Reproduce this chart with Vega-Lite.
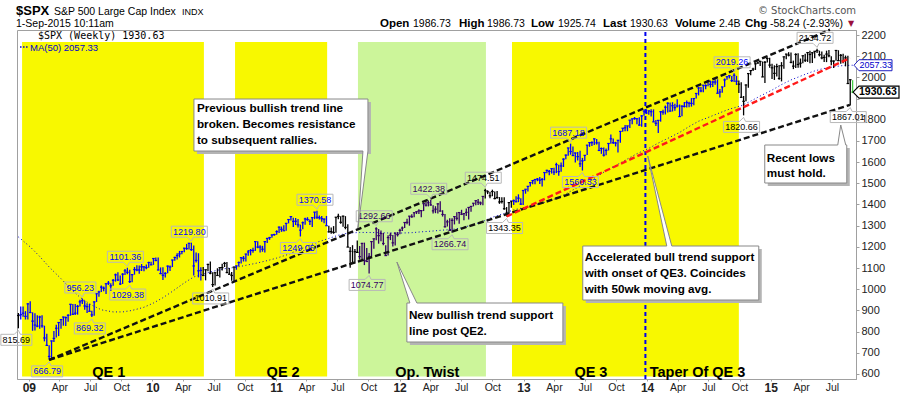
{
"$schema":"https://vega.github.io/schema/vega-lite/v6.json",
"width":839,"height":349,
"autosize":{"type":"none"},
"padding":{"left":17,"top":30,"right":44,"bottom":17},
"background":"#ffffff",
"config":{"view":{"stroke":"#a0a0a0","strokeWidth":1},"font":"Liberation Sans","axisY":{"labelOverlap":false,"tickCount":17},"axis":{"labelOverlap":false}},
"datasets":{
"regions":[{"s":"2008-12-12","e":"2010-06-02","k":"QE"},{"s":"2010-09-02","e":"2011-06-01","k":"QE"},{"s":"2011-08-31","e":"2012-09-12","k":"OT"},{"s":"2012-11-28","e":"2014-09-29","k":"QE"}],
"phases":[{"n":"QE 1","d":"2009-08-25"},{"n":"QE 2","d":"2011-01-22"},{"n":"Op. Twist","d":"2012-03-23"},{"n":"QE 3","d":"2013-07-19"},{"n":"Taper Of QE 3","d":"2014-05-30"}],
"trend":[{"id":"L1","d":"2009-03-02","v":666.79},{"id":"L1","d":"2015-06-25","v":2225},{"id":"L2","d":"2009-03-02","v":666.79},{"id":"L2","d":"2015-08-23","v":1870},{"id":"L3","d":"2012-11-12","v":1343.35},{"id":"L3","d":"2015-08-23","v":2091}],
"ma":[{"d":"2008-12-01","v":1247},{"d":"2009-01-05","v":1200},{"d":"2009-02-02","v":1155},{"d":"2009-03-02","v":1105},{"d":"2009-04-06","v":1050},{"d":"2009-05-04","v":1003},{"d":"2009-06-01","v":962},{"d":"2009-07-06","v":925},{"d":"2009-08-03","v":903},{"d":"2009-09-07","v":893},{"d":"2009-10-05","v":893},{"d":"2009-11-02","v":900},{"d":"2009-12-07","v":915},{"d":"2010-01-04","v":935},{"d":"2010-02-01","v":960},{"d":"2010-03-01","v":990},{"d":"2010-04-05","v":1030},{"d":"2010-05-03","v":1058},{"d":"2010-06-07","v":1075},{"d":"2010-07-05","v":1087},{"d":"2010-08-02","v":1097},{"d":"2010-09-06","v":1104},{"d":"2010-10-04","v":1113},{"d":"2010-11-01","v":1122},{"d":"2010-12-06","v":1135},{"d":"2011-01-03","v":1147},{"d":"2011-02-07","v":1165},{"d":"2011-03-07","v":1185},{"d":"2011-04-04","v":1203},{"d":"2011-05-02","v":1222},{"d":"2011-06-06","v":1240},{"d":"2011-07-04","v":1255},{"d":"2011-08-01","v":1265},{"d":"2011-09-05","v":1268},{"d":"2011-10-03","v":1268},{"d":"2011-11-07","v":1267},{"d":"2011-12-05","v":1265},{"d":"2012-01-02","v":1265},{"d":"2012-02-06","v":1267},{"d":"2012-03-05","v":1271},{"d":"2012-04-02","v":1274},{"d":"2012-05-07","v":1279},{"d":"2012-06-04","v":1282},{"d":"2012-07-02","v":1290},{"d":"2012-08-06","v":1305},{"d":"2012-09-03","v":1320},{"d":"2012-10-01","v":1340},{"d":"2012-11-05","v":1358},{"d":"2012-12-03","v":1375},{"d":"2013-01-07","v":1387},{"d":"2013-02-04","v":1398},{"d":"2013-03-04","v":1410},{"d":"2013-04-01","v":1425},{"d":"2013-05-06","v":1450},{"d":"2013-06-03","v":1475},{"d":"2013-07-01","v":1500},{"d":"2013-08-05","v":1530},{"d":"2013-09-02","v":1560},{"d":"2013-10-07","v":1590},{"d":"2013-11-04","v":1615},{"d":"2013-12-02","v":1640},{"d":"2014-01-06","v":1665},{"d":"2014-02-03","v":1690},{"d":"2014-03-03","v":1712},{"d":"2014-04-07","v":1740},{"d":"2014-05-05","v":1768},{"d":"2014-06-02","v":1793},{"d":"2014-07-07","v":1815},{"d":"2014-08-04","v":1833},{"d":"2014-09-01","v":1850},{"d":"2014-10-06","v":1866},{"d":"2014-11-03","v":1888},{"d":"2014-12-01","v":1912},{"d":"2015-01-05","v":1940},{"d":"2015-02-02","v":1966},{"d":"2015-03-02","v":1988},{"d":"2015-04-06","v":2010},{"d":"2015-05-04","v":2027},{"d":"2015-06-01","v":2040},{"d":"2015-07-06","v":2050},{"d":"2015-08-03","v":2056},{"d":"2015-08-31","v":2057.33}],
"marks":[{"d":"2008-12-01","v":815.69,"k":"lo","p":"-"},{"d":"2009-03-02","v":666.79,"k":"lo","p":"QE"},{"d":"2009-06-08","v":956.23,"k":"hi","p":"QE"},{"d":"2009-07-06","v":869.32,"k":"lo","p":"QE"},{"d":"2009-10-19","v":1101.36,"k":"hi","p":"QE"},{"d":"2009-10-26","v":1029.38,"k":"lo","p":"QE"},{"d":"2010-04-26","v":1219.8,"k":"hi","p":"QE"},{"d":"2010-06-28","v":1010.91,"k":"lo","p":"-"},{"d":"2011-05-02","v":1370.58,"k":"hi","p":"QE"},{"d":"2011-03-14","v":1249.05,"k":"lo","p":"QE"},{"d":"2011-10-24","v":1292.66,"k":"hi","p":"OT"},{"d":"2011-10-03","v":1074.77,"k":"lo","p":"OT"},{"d":"2012-04-02","v":1422.38,"k":"hi","p":"OT"},{"d":"2012-06-04","v":1266.74,"k":"lo","p":"OT"},{"d":"2012-09-10","v":1474.51,"k":"hi","p":"-"},{"d":"2012-11-12","v":1343.35,"k":"lo","p":"-"},{"d":"2013-05-20","v":1687.18,"k":"hi","p":"QE"},{"d":"2013-06-24","v":1560.33,"k":"lo","p":"QE"},{"d":"2014-09-15","v":2019.26,"k":"hi","p":"QE"},{"d":"2014-10-13","v":1820.66,"k":"lo","p":"-"},{"d":"2015-05-18","v":2134.72,"k":"hi","p":"-"},{"d":"2015-08-24","v":1867.01,"k":"lo","p":"-"}],
"notes":[{"id":1,"d":"2011-08-31","v":1289,"t":"Previous bullish trend line\nbroken. Becomes resistance\nto subsequent rallies."},{"id":2,"d":"2011-12-24","v":1128.6,"t":"New bullish trend support\nline post QE2."},{"id":3,"d":"2014-01-03","v":1628.9,"t":"Accelerated bull trend support\nwith onset of QE3. Coincides\nwith 50wk moving avg."},{"id":4,"d":"2015-07-27","v":1775.2,"t":"Recent lows\nmust hold."}],
"bars":[
{"d":"2008-12-01","h":888,"l":815.69,"c":876,"p":"-"},{"d":"2008-12-08","h":919,"l":857,"c":880,"p":"QE"},{"d":"2008-12-15","h":918,"l":870,"c":887,"p":"QE"},{"d":"2008-12-22","h":897,"l":857,"c":872,"p":"QE"},{"d":"2008-12-29","h":934,"l":857,"c":931,"p":"QE"},
{"d":"2009-01-05","h":943,"l":889,"c":890,"p":"QE"},{"d":"2009-01-12","h":891,"l":804,"c":850,"p":"QE"},{"d":"2009-01-19","h":887,"l":805,"c":831,"p":"QE"},{"d":"2009-01-26","h":877,"l":821,"c":826,"p":"QE"},{"d":"2009-02-02","h":875,"l":814,"c":869,"p":"QE"},{"d":"2009-02-09","h":877,"l":818,"c":827,"p":"QE"},{"d":"2009-02-16","h":828,"l":754,"c":770,"p":"QE"},{"d":"2009-02-23","h":790,"l":735,"c":735,"p":"QE"},{"d":"2009-03-02","h":736,"l":666.79,"c":683,"p":"QE"},{"d":"2009-03-09","h":758,"l":672,"c":756,"p":"QE"},{"d":"2009-03-16","h":803,"l":751,"c":768,"p":"QE"},{"d":"2009-03-23","h":832,"l":772,"c":816,"p":"QE"},{"d":"2009-03-30","h":845,"l":779,"c":843,"p":"QE"},{"d":"2009-04-06","h":857,"l":814,"c":857,"p":"QE"},{"d":"2009-04-13","h":870,"l":828,"c":869,"p":"QE"},{"d":"2009-04-20","h":871,"l":826,"c":866,"p":"QE"},{"d":"2009-04-27","h":882,"l":847,"c":877,"p":"QE"},{"d":"2009-05-04","h":930,"l":875,"c":929,"p":"QE"},{"d":"2009-05-11","h":930,"l":878,"c":882,"p":"QE"},{"d":"2009-05-18","h":930,"l":878,"c":887,"p":"QE"},{"d":"2009-05-25","h":926,"l":880,"c":919,"p":"QE"},{"d":"2009-06-01","h":951,"l":919,"c":940,"p":"QE"},{"d":"2009-06-08","h":956.23,"l":930,"c":946,"p":"QE"},{"d":"2009-06-15","h":946,"l":903,"c":921,"p":"QE"},{"d":"2009-06-22","h":934,"l":888,"c":918,"p":"QE"},{"d":"2009-06-29","h":931,"l":896,"c":896,"p":"QE"},{"d":"2009-07-06","h":898,"l":869.32,"c":879,"p":"QE"},{"d":"2009-07-13","h":943,"l":875,"c":940,"p":"QE"},{"d":"2009-07-20","h":979,"l":940,"c":979,"p":"QE"},{"d":"2009-07-27","h":993,"l":965,"c":987,"p":"QE"},{"d":"2009-08-03","h":1018,"l":987,"c":1010,"p":"QE"},{"d":"2009-08-10","h":1013,"l":990,"c":1005,"p":"QE"},{"d":"2009-08-17","h":1027,"l":978,"c":1026,"p":"QE"},{"d":"2009-08-24","h":1039,"l":1020,"c":1029,"p":"QE"},{"d":"2009-08-31","h":1028,"l":992,"c":1016,"p":"QE"},{"d":"2009-09-07","h":1048,"l":1016,"c":1042,"p":"QE"},{"d":"2009-09-14","h":1074,"l":1036,"c":1068,"p":"QE"},{"d":"2009-09-21","h":1080,"l":1039,"c":1044,"p":"QE"},{"d":"2009-09-28","h":1065,"l":1020,"c":1025,"p":"QE"},{"d":"2009-10-05","h":1076,"l":1025,"c":1071,"p":"QE"},{"d":"2009-10-12","h":1096,"l":1067,"c":1087,"p":"QE"},{"d":"2009-10-19","h":1101.36,"l":1071,"c":1080,"p":"QE"},{"d":"2009-10-26","h":1092,"l":1029.38,"c":1036,"p":"QE"},{"d":"2009-11-02","h":1072,"l":1033,"c":1069,"p":"QE"},{"d":"2009-11-09","h":1105,"l":1069,"c":1093,"p":"QE"},{"d":"2009-11-16","h":1113,"l":1085,"c":1091,"p":"QE"},{"d":"2009-11-23","h":1112,"l":1073,"c":1091,"p":"QE"},{"d":"2009-11-30","h":1119,"l":1086,"c":1106,"p":"QE"},{"d":"2009-12-07","h":1108,"l":1085,"c":1106,"p":"QE"},{"d":"2009-12-14","h":1117,"l":1094,"c":1102,"p":"QE"},{"d":"2009-12-21","h":1130,"l":1102,"c":1126,"p":"QE"},{"d":"2009-12-28","h":1130,"l":1115,"c":1115,"p":"QE"},
{"d":"2010-01-04","h":1146,"l":1115,"c":1145,"p":"QE"},{"d":"2010-01-11","h":1150,"l":1132,"c":1136,"p":"QE"},{"d":"2010-01-18","h":1150,"l":1090,"c":1091,"p":"QE"},{"d":"2010-01-25","h":1103,"l":1071,"c":1074,"p":"QE"},{"d":"2010-02-01","h":1104,"l":1044,"c":1066,"p":"QE"},{"d":"2010-02-08","h":1080,"l":1056,"c":1075,"p":"QE"},{"d":"2010-02-15","h":1112,"l":1076,"c":1109,"p":"QE"},{"d":"2010-02-22","h":1112,"l":1086,"c":1105,"p":"QE"},{"d":"2010-03-01","h":1139,"l":1105,"c":1138,"p":"QE"},{"d":"2010-03-08","h":1153,"l":1134,"c":1150,"p":"QE"},{"d":"2010-03-15","h":1170,"l":1141,"c":1159,"p":"QE"},{"d":"2010-03-22","h":1181,"l":1150,"c":1167,"p":"QE"},{"d":"2010-03-29","h":1181,"l":1165,"c":1178,"p":"QE"},{"d":"2010-04-05","h":1195,"l":1175,"c":1194,"p":"QE"},{"d":"2010-04-12","h":1214,"l":1186,"c":1192,"p":"QE"},{"d":"2010-04-19","h":1218,"l":1188,"c":1217,"p":"QE"},{"d":"2010-04-26","h":1219.8,"l":1181,"c":1187,"p":"QE"},{"d":"2010-05-03","h":1206,"l":1065,"c":1110,"p":"QE"},{"d":"2010-05-10","h":1174,"l":1126,"c":1136,"p":"QE"},{"d":"2010-05-17","h":1170,"l":1056,"c":1087,"p":"QE"},{"d":"2010-05-24","h":1104,"l":1041,"c":1089,"p":"QE"},{"d":"2010-05-31","h":1105,"l":1064,"c":1065,"p":"-"},{"d":"2010-06-07","h":1092,"l":1042,"c":1092,"p":"-"},{"d":"2010-06-14","h":1120,"l":1085,"c":1117,"p":"-"},{"d":"2010-06-21","h":1131,"l":1071,"c":1076,"p":"-"},{"d":"2010-06-28","h":1080,"l":1010.91,"c":1022,"p":"-"},{"d":"2010-07-05","h":1078,"l":1018,"c":1078,"p":"-"},{"d":"2010-07-12","h":1099,"l":1063,"c":1065,"p":"-"},{"d":"2010-07-19","h":1103,"l":1056,"c":1102,"p":"-"},{"d":"2010-07-26","h":1120,"l":1088,"c":1102,"p":"-"},{"d":"2010-08-02","h":1129,"l":1105,"c":1122,"p":"-"},{"d":"2010-08-09","h":1129,"l":1076,"c":1079,"p":"-"},{"d":"2010-08-16","h":1100,"l":1069,"c":1071,"p":"-"},{"d":"2010-08-23","h":1081,"l":1040,"c":1065,"p":"-"},{"d":"2010-08-30","h":1105,"l":1039,"c":1105,"p":"-"},{"d":"2010-09-06","h":1112,"l":1092,"c":1110,"p":"QE"},{"d":"2010-09-13","h":1131,"l":1108,"c":1126,"p":"QE"},{"d":"2010-09-20","h":1149,"l":1122,"c":1149,"p":"QE"},{"d":"2010-09-27","h":1157,"l":1131,"c":1146,"p":"QE"},{"d":"2010-10-04","h":1167,"l":1131,"c":1166,"p":"QE"},{"d":"2010-10-11","h":1185,"l":1158,"c":1176,"p":"QE"},{"d":"2010-10-18","h":1190,"l":1160,"c":1183,"p":"QE"},{"d":"2010-10-25","h":1196,"l":1172,"c":1183,"p":"QE"},{"d":"2010-11-01","h":1227,"l":1181,"c":1225,"p":"QE"},{"d":"2010-11-08","h":1226,"l":1194,"c":1199,"p":"QE"},{"d":"2010-11-15","h":1208,"l":1173,"c":1199,"p":"QE"},{"d":"2010-11-22","h":1205,"l":1177,"c":1189,"p":"QE"},{"d":"2010-11-29","h":1225,"l":1174,"c":1225,"p":"QE"},{"d":"2010-12-06","h":1241,"l":1218,"c":1240,"p":"QE"},{"d":"2010-12-13","h":1247,"l":1233,"c":1244,"p":"QE"},{"d":"2010-12-20","h":1259,"l":1243,"c":1256,"p":"QE"},{"d":"2010-12-27","h":1262,"l":1252,"c":1258,"p":"QE"},
{"d":"2011-01-03","h":1278,"l":1257,"c":1272,"p":"QE"},{"d":"2011-01-10","h":1296,"l":1265,"c":1293,"p":"QE"},{"d":"2011-01-17","h":1296,"l":1271,"c":1283,"p":"QE"},{"d":"2011-01-24","h":1302,"l":1276,"c":1276,"p":"QE"},{"d":"2011-01-31","h":1311,"l":1276,"c":1311,"p":"QE"},{"d":"2011-02-07","h":1330,"l":1311,"c":1329,"p":"QE"},{"d":"2011-02-14","h":1344,"l":1324,"c":1343,"p":"QE"},{"d":"2011-02-21","h":1338,"l":1294,"c":1320,"p":"QE"},{"d":"2011-02-28","h":1336,"l":1303,"c":1321,"p":"QE"},{"d":"2011-03-07","h":1331,"l":1291,"c":1304,"p":"QE"},{"d":"2011-03-14","h":1305,"l":1249.05,"c":1279,"p":"QE"},{"d":"2011-03-21","h":1320,"l":1283,"c":1314,"p":"QE"},{"d":"2011-03-28","h":1338,"l":1305,"c":1332,"p":"QE"},{"d":"2011-04-04","h":1340,"l":1323,"c":1329,"p":"QE"},{"d":"2011-04-11","h":1329,"l":1303,"c":1320,"p":"QE"},{"d":"2011-04-18","h":1340,"l":1294,"c":1338,"p":"QE"},{"d":"2011-04-25","h":1365,"l":1331,"c":1364,"p":"QE"},{"d":"2011-05-02","h":1370.58,"l":1332,"c":1340,"p":"QE"},{"d":"2011-05-09","h":1348,"l":1329,"c":1338,"p":"QE"},{"d":"2011-05-16","h":1346,"l":1318,"c":1333,"p":"QE"},{"d":"2011-05-23","h":1334,"l":1311,"c":1331,"p":"QE"},{"d":"2011-05-30","h":1346,"l":1300,"c":1300,"p":"QE"},{"d":"2011-06-06","h":1300,"l":1268,"c":1271,"p":"-"},{"d":"2011-06-13","h":1292,"l":1262,"c":1272,"p":"-"},{"d":"2011-06-20","h":1298,"l":1262,"c":1268,"p":"-"},{"d":"2011-06-27","h":1341,"l":1267,"c":1340,"p":"-"},{"d":"2011-07-04","h":1356,"l":1330,"c":1344,"p":"-"},{"d":"2011-07-11","h":1344,"l":1309,"c":1316,"p":"-"},{"d":"2011-07-18","h":1347,"l":1295,"c":1345,"p":"-"},{"d":"2011-07-25","h":1345,"l":1283,"c":1292,"p":"-"},{"d":"2011-08-01","h":1307,"l":1199,"c":1199,"p":"-"},{"d":"2011-08-08","h":1199,"l":1101,"c":1179,"p":"-"},{"d":"2011-08-15","h":1208,"l":1122,"c":1124,"p":"-"},{"d":"2011-08-22","h":1190,"l":1121,"c":1177,"p":"-"},{"d":"2011-08-29","h":1230,"l":1171,"c":1174,"p":"-"},{"d":"2011-09-05","h":1204,"l":1140,"c":1154,"p":"OT"},{"d":"2011-09-12","h":1220,"l":1137,"c":1216,"p":"OT"},{"d":"2011-09-19","h":1220,"l":1114,"c":1136,"p":"OT"},{"d":"2011-09-26","h":1195,"l":1130,"c":1131,"p":"OT"},{"d":"2011-10-03","h":1171,"l":1074.77,"c":1155,"p":"OT"},{"d":"2011-10-10","h":1224,"l":1154,"c":1225,"p":"OT"},{"d":"2011-10-17","h":1238,"l":1191,"c":1238,"p":"OT"},{"d":"2011-10-24","h":1292.66,"l":1231,"c":1285,"p":"OT"},{"d":"2011-10-31","h":1284,"l":1215,"c":1253,"p":"OT"},{"d":"2011-11-07","h":1277,"l":1226,"c":1263,"p":"OT"},{"d":"2011-11-14","h":1266,"l":1208,"c":1216,"p":"OT"},{"d":"2011-11-21","h":1208,"l":1158,"c":1159,"p":"OT"},{"d":"2011-11-28","h":1255,"l":1159,"c":1244,"p":"OT"},{"d":"2011-12-05","h":1267,"l":1232,"c":1255,"p":"OT"},{"d":"2011-12-12","h":1256,"l":1202,"c":1219,"p":"OT"},{"d":"2011-12-19","h":1267,"l":1206,"c":1265,"p":"OT"},{"d":"2011-12-26","h":1270,"l":1249,"c":1258,"p":"OT"},
{"d":"2012-01-02","h":1285,"l":1259,"c":1278,"p":"OT"},{"d":"2012-01-09","h":1296,"l":1275,"c":1289,"p":"OT"},{"d":"2012-01-16","h":1316,"l":1289,"c":1315,"p":"OT"},{"d":"2012-01-23","h":1333,"l":1307,"c":1316,"p":"OT"},{"d":"2012-01-30","h":1345,"l":1300,"c":1345,"p":"OT"},{"d":"2012-02-06","h":1354,"l":1337,"c":1342,"p":"OT"},{"d":"2012-02-13","h":1363,"l":1340,"c":1361,"p":"OT"},{"d":"2012-02-20","h":1368,"l":1355,"c":1366,"p":"OT"},{"d":"2012-02-27","h":1378,"l":1355,"c":1370,"p":"OT"},{"d":"2012-03-05","h":1374,"l":1340,"c":1371,"p":"OT"},{"d":"2012-03-12","h":1405,"l":1369,"c":1404,"p":"OT"},{"d":"2012-03-19","h":1414,"l":1390,"c":1397,"p":"OT"},{"d":"2012-03-26","h":1419,"l":1391,"c":1408,"p":"OT"},{"d":"2012-04-02","h":1422.38,"l":1394,"c":1398,"p":"OT"},{"d":"2012-04-09","h":1397,"l":1357,"c":1370,"p":"OT"},{"d":"2012-04-16","h":1392,"l":1359,"c":1378,"p":"OT"},{"d":"2012-04-23","h":1406,"l":1358,"c":1403,"p":"OT"},{"d":"2012-04-30","h":1415,"l":1367,"c":1369,"p":"OT"},{"d":"2012-05-07","h":1373,"l":1343,"c":1353,"p":"OT"},{"d":"2012-05-14","h":1355,"l":1291,"c":1295,"p":"OT"},{"d":"2012-05-21","h":1328,"l":1296,"c":1318,"p":"OT"},{"d":"2012-05-28","h":1335,"l":1278,"c":1278,"p":"OT"},{"d":"2012-06-04","h":1335,"l":1266.74,"c":1325,"p":"OT"},{"d":"2012-06-11","h":1345,"l":1306,"c":1343,"p":"OT"},{"d":"2012-06-18","h":1363,"l":1324,"c":1335,"p":"OT"},{"d":"2012-06-25","h":1363,"l":1309,"c":1362,"p":"OT"},{"d":"2012-07-02","h":1375,"l":1350,"c":1354,"p":"OT"},{"d":"2012-07-09","h":1358,"l":1326,"c":1357,"p":"OT"},{"d":"2012-07-16","h":1381,"l":1346,"c":1363,"p":"OT"},{"d":"2012-07-23","h":1386,"l":1329,"c":1386,"p":"OT"},{"d":"2012-07-30","h":1392,"l":1366,"c":1391,"p":"OT"},{"d":"2012-08-06","h":1407,"l":1391,"c":1406,"p":"OT"},{"d":"2012-08-13","h":1418,"l":1397,"c":1418,"p":"OT"},{"d":"2012-08-20","h":1426,"l":1398,"c":1411,"p":"OT"},{"d":"2012-08-27","h":1414,"l":1397,"c":1407,"p":"OT"},{"d":"2012-09-03","h":1438,"l":1396,"c":1438,"p":"OT"},{"d":"2012-09-10","h":1474.51,"l":1428,"c":1466,"p":"-"},{"d":"2012-09-17","h":1467,"l":1449,"c":1460,"p":"-"},{"d":"2012-09-24","h":1460,"l":1430,"c":1441,"p":"-"},{"d":"2012-10-01","h":1470,"l":1439,"c":1461,"p":"-"},{"d":"2012-10-08","h":1461,"l":1425,"c":1428,"p":"-"},{"d":"2012-10-15","h":1464,"l":1427,"c":1433,"p":"-"},{"d":"2012-10-22","h":1435,"l":1403,"c":1412,"p":"-"},{"d":"2012-10-29","h":1434,"l":1405,"c":1414,"p":"-"},{"d":"2012-11-05","h":1434,"l":1375,"c":1380,"p":"-"},{"d":"2012-11-12","h":1388,"l":1343.35,"c":1359,"p":"-"},{"d":"2012-11-19","h":1410,"l":1358,"c":1409,"p":"-"},{"d":"2012-11-26","h":1417,"l":1385,"c":1416,"p":"-"},{"d":"2012-12-03","h":1424,"l":1398,"c":1418,"p":"QE"},{"d":"2012-12-10","h":1439,"l":1411,"c":1413,"p":"QE"},{"d":"2012-12-17","h":1448,"l":1411,"c":1430,"p":"QE"},{"d":"2012-12-24","h":1430,"l":1398,"c":1402,"p":"QE"},{"d":"2012-12-31","h":1467,"l":1398,"c":1466,"p":"QE"},
{"d":"2013-01-07","h":1472,"l":1451,"c":1472,"p":"QE"},{"d":"2013-01-14","h":1486,"l":1461,"c":1486,"p":"QE"},{"d":"2013-01-21","h":1503,"l":1485,"c":1503,"p":"QE"},{"d":"2013-01-28","h":1514,"l":1495,"c":1513,"p":"QE"},{"d":"2013-02-04","h":1518,"l":1495,"c":1518,"p":"QE"},{"d":"2013-02-11","h":1525,"l":1510,"c":1520,"p":"QE"},{"d":"2013-02-18","h":1530,"l":1497,"c":1515,"p":"QE"},{"d":"2013-02-25","h":1525,"l":1485,"c":1518,"p":"QE"},{"d":"2013-03-04","h":1552,"l":1514,"c":1551,"p":"QE"},{"d":"2013-03-11","h":1564,"l":1547,"c":1561,"p":"QE"},{"d":"2013-03-18","h":1563,"l":1538,"c":1556,"p":"QE"},{"d":"2013-03-25","h":1570,"l":1546,"c":1569,"p":"QE"},{"d":"2013-04-01","h":1574,"l":1539,"c":1553,"p":"QE"},{"d":"2013-04-08","h":1597,"l":1548,"c":1588,"p":"QE"},{"d":"2013-04-15","h":1588,"l":1536,"c":1555,"p":"QE"},{"d":"2013-04-22","h":1598,"l":1555,"c":1582,"p":"QE"},{"d":"2013-04-29","h":1618,"l":1577,"c":1614,"p":"QE"},{"d":"2013-05-06","h":1636,"l":1614,"c":1633,"p":"QE"},{"d":"2013-05-13","h":1667,"l":1630,"c":1667,"p":"QE"},{"d":"2013-05-20","h":1687.18,"l":1635,"c":1650,"p":"QE"},{"d":"2013-05-27","h":1674,"l":1630,"c":1631,"p":"QE"},{"d":"2013-06-03","h":1645,"l":1598,"c":1643,"p":"QE"},{"d":"2013-06-10","h":1648,"l":1608,"c":1626,"p":"QE"},{"d":"2013-06-17","h":1654,"l":1577,"c":1592,"p":"QE"},{"d":"2013-06-24","h":1620,"l":1560.33,"c":1606,"p":"QE"},{"d":"2013-07-01","h":1632,"l":1605,"c":1632,"p":"QE"},{"d":"2013-07-08","h":1680,"l":1634,"c":1680,"p":"QE"},{"d":"2013-07-15","h":1694,"l":1672,"c":1692,"p":"QE"},{"d":"2013-07-22","h":1698,"l":1676,"c":1692,"p":"QE"},{"d":"2013-07-29","h":1710,"l":1681,"c":1710,"p":"QE"},{"d":"2013-08-05","h":1709,"l":1683,"c":1691,"p":"QE"},{"d":"2013-08-12","h":1696,"l":1654,"c":1655,"p":"QE"},{"d":"2013-08-19","h":1669,"l":1639,"c":1664,"p":"QE"},{"d":"2013-08-26","h":1669,"l":1627,"c":1633,"p":"QE"},{"d":"2013-09-02","h":1664,"l":1633,"c":1655,"p":"QE"},{"d":"2013-09-09","h":1689,"l":1655,"c":1688,"p":"QE"},{"d":"2013-09-16","h":1730,"l":1687,"c":1710,"p":"QE"},{"d":"2013-09-23","h":1711,"l":1686,"c":1692,"p":"QE"},{"d":"2013-09-30","h":1696,"l":1674,"c":1690,"p":"QE"},{"d":"2013-10-07","h":1704,"l":1646,"c":1703,"p":"QE"},{"d":"2013-10-14","h":1745,"l":1692,"c":1745,"p":"QE"},{"d":"2013-10-21","h":1760,"l":1743,"c":1760,"p":"QE"},{"d":"2013-10-28","h":1775,"l":1746,"c":1762,"p":"QE"},{"d":"2013-11-04","h":1771,"l":1746,"c":1771,"p":"QE"},{"d":"2013-11-11","h":1798,"l":1761,"c":1798,"p":"QE"},{"d":"2013-11-18","h":1806,"l":1779,"c":1804,"p":"QE"},{"d":"2013-11-25","h":1813,"l":1800,"c":1806,"p":"QE"},{"d":"2013-12-02","h":1806,"l":1779,"c":1805,"p":"QE"},{"d":"2013-12-09","h":1812,"l":1772,"c":1775,"p":"QE"},{"d":"2013-12-16","h":1823,"l":1767,"c":1818,"p":"QE"},{"d":"2013-12-23","h":1844,"l":1819,"c":1841,"p":"QE"},{"d":"2013-12-30","h":1849,"l":1827,"c":1832,"p":"QE"},
{"d":"2014-01-06","h":1843,"l":1824,"c":1842,"p":"QE"},{"d":"2014-01-13","h":1850,"l":1815,"c":1838,"p":"QE"},{"d":"2014-01-20","h":1849,"l":1790,"c":1790,"p":"QE"},{"d":"2014-01-27","h":1799,"l":1770,"c":1783,"p":"QE"},{"d":"2014-02-03","h":1797,"l":1737.92,"c":1797,"p":"QE"},{"d":"2014-02-10","h":1841,"l":1791,"c":1838,"p":"QE"},{"d":"2014-02-17","h":1847,"l":1824,"c":1836,"p":"QE"},{"d":"2014-02-24","h":1867,"l":1825,"c":1859,"p":"QE"},{"d":"2014-03-03","h":1883,"l":1834,"c":1878,"p":"QE"},{"d":"2014-03-10","h":1882,"l":1839,"c":1841,"p":"QE"},{"d":"2014-03-17","h":1883,"l":1839,"c":1866,"p":"QE"},{"d":"2014-03-24","h":1875,"l":1842,"c":1857,"p":"QE"},{"d":"2014-03-31","h":1897,"l":1858,"c":1865,"p":"QE"},{"d":"2014-04-07","h":1872,"l":1814,"c":1815,"p":"QE"},{"d":"2014-04-14","h":1869,"l":1816,"c":1864,"p":"QE"},{"d":"2014-04-21","h":1884,"l":1858,"c":1863,"p":"QE"},{"d":"2014-04-28","h":1891,"l":1858,"c":1881,"p":"QE"},{"d":"2014-05-05","h":1885,"l":1859,"c":1878,"p":"QE"},{"d":"2014-05-12","h":1902,"l":1862,"c":1877,"p":"QE"},{"d":"2014-05-19","h":1901,"l":1868,"c":1900,"p":"QE"},{"d":"2014-05-26","h":1925,"l":1900,"c":1924,"p":"QE"},{"d":"2014-06-02","h":1955,"l":1915,"c":1950,"p":"QE"},{"d":"2014-06-09","h":1955,"l":1930,"c":1936,"p":"QE"},{"d":"2014-06-16","h":1963,"l":1930,"c":1963,"p":"QE"},{"d":"2014-06-23","h":1968,"l":1944,"c":1961,"p":"QE"},{"d":"2014-06-30","h":1985,"l":1958,"c":1985,"p":"QE"},{"d":"2014-07-07","h":1985,"l":1952,"c":1967,"p":"QE"},{"d":"2014-07-14","h":1984,"l":1955,"c":1978,"p":"QE"},{"d":"2014-07-21","h":1991,"l":1965,"c":1978,"p":"QE"},{"d":"2014-07-28","h":1991,"l":1925,"c":1925,"p":"QE"},{"d":"2014-08-04","h":1945,"l":1905,"c":1931,"p":"QE"},{"d":"2014-08-11","h":1955,"l":1928,"c":1955,"p":"QE"},{"d":"2014-08-18","h":1995,"l":1955,"c":1988,"p":"QE"},{"d":"2014-08-25","h":2005,"l":1989,"c":2003,"p":"QE"},{"d":"2014-09-01","h":2011,"l":1995,"c":2008,"p":"QE"},{"d":"2014-09-08","h":2007,"l":1978,"c":1985,"p":"QE"},{"d":"2014-09-15","h":2019.26,"l":1978,"c":2010,"p":"QE"},{"d":"2014-09-22","h":2007,"l":1964,"c":1982,"p":"QE"},{"d":"2014-09-29","h":1985,"l":1926,"c":1968,"p":"-"},{"d":"2014-10-06","h":1977,"l":1905,"c":1906,"p":"-"},{"d":"2014-10-13","h":1912,"l":1820.66,"c":1887,"p":"-"},{"d":"2014-10-20","h":1966,"l":1887,"c":1964,"p":"-"},{"d":"2014-10-27","h":2018,"l":1951,"c":2018,"p":"-"},{"d":"2014-11-03","h":2034,"l":2010,"c":2032,"p":"-"},{"d":"2014-11-10","h":2046,"l":2030,"c":2039,"p":"-"},{"d":"2014-11-17","h":2071,"l":2035,"c":2064,"p":"-"},{"d":"2014-11-24","h":2075,"l":2064,"c":2068,"p":"-"},{"d":"2014-12-01","h":2079,"l":2054,"c":2075,"p":"-"},{"d":"2014-12-08","h":2075,"l":2002,"c":2002,"p":"-"},{"d":"2014-12-15","h":2077,"l":1973,"c":2071,"p":"-"},{"d":"2014-12-22","h":2094,"l":2070,"c":2089,"p":"-"},{"d":"2014-12-29","h":2093,"l":2046,"c":2058,"p":"-"},
{"d":"2015-01-05","h":2064,"l":1992,"c":2045,"p":"-"},{"d":"2015-01-12","h":2057,"l":1988,"c":2019,"p":"-"},{"d":"2015-01-19","h":2064,"l":2004,"c":2051,"p":"-"},{"d":"2015-01-26","h":2058,"l":1989,"c":1995,"p":"-"},{"d":"2015-02-02","h":2072,"l":1981,"c":2055,"p":"-"},{"d":"2015-02-09","h":2097,"l":2041,"c":2097,"p":"-"},{"d":"2015-02-16","h":2110,"l":2085,"c":2110,"p":"-"},{"d":"2015-02-23","h":2119,"l":2099,"c":2105,"p":"-"},{"d":"2015-03-02","h":2117,"l":2067,"c":2071,"p":"-"},{"d":"2015-03-09","h":2079,"l":2039,"c":2053,"p":"-"},{"d":"2015-03-16","h":2114,"l":2044,"c":2108,"p":"-"},{"d":"2015-03-23","h":2114,"l":2045,"c":2061,"p":"-"},{"d":"2015-03-30","h":2089,"l":2046,"c":2067,"p":"-"},{"d":"2015-04-06","h":2102,"l":2067,"c":2102,"p":"-"},{"d":"2015-04-13","h":2111,"l":2072,"c":2081,"p":"-"},{"d":"2015-04-20","h":2120,"l":2073,"c":2117,"p":"-"},{"d":"2015-04-27","h":2126,"l":2067,"c":2108,"p":"-"},{"d":"2015-05-04","h":2120,"l":2068,"c":2116,"p":"-"},{"d":"2015-05-11","h":2123,"l":2090,"c":2123,"p":"-"},{"d":"2015-05-18","h":2134.72,"l":2115,"c":2126,"p":"-"},{"d":"2015-05-25","h":2126,"l":2099,"c":2107,"p":"-"},{"d":"2015-06-01","h":2122,"l":2085,"c":2092,"p":"-"},{"d":"2015-06-08","h":2107,"l":2072,"c":2094,"p":"-"},{"d":"2015-06-15","h":2126,"l":2072,"c":2110,"p":"-"},{"d":"2015-06-22","h":2129,"l":2095,"c":2102,"p":"-"},{"d":"2015-06-29","h":2100,"l":2057,"c":2077,"p":"-"},{"d":"2015-07-06","h":2080,"l":2044,"c":2077,"p":"-"},{"d":"2015-07-13","h":2129,"l":2079,"c":2127,"p":"-"},{"d":"2015-07-20","h":2128,"l":2077,"c":2079,"p":"-"},{"d":"2015-07-27","h":2110,"l":2064,"c":2104,"p":"-"},{"d":"2015-08-03","h":2112,"l":2067,"c":2078,"p":"-"},{"d":"2015-08-10","h":2103,"l":2052,"c":2092,"p":"-"},{"d":"2015-08-17","h":2102,"l":1971,"c":1971,"p":"-"},{"d":"2015-08-24","h":1989,"l":1867.01,"c":1989,"p":"-"},{"d":"2015-08-31","h":1986.73,"l":1925.74,"c":1930.63,"p":"now"}
]
},
"layer":[
{"data":{"name":"regions"},"mark":{"type":"rect"},"encoding":{"x":{"field":"s","type":"temporal"},"x2":{"field":"e"},"y":{"datum":588,"type":"quantitative"},"y2":{"datum":2167},"fill":{"field":"k","type":"nominal","scale":{"domain":["QE","OT"],"range":["#f8f800","#ccf59a"]},"legend":null}}},
{"data":{"values":[{}]},"mark":{"type":"rule","color":"#0000ee","strokeWidth":2,"strokeDash":[4,3]},"encoding":{"x":{"datum":{"year":2013,"month":12,"date":27,"utc":true},"type":"temporal"},"y":{"datum":576.4,"type":"quantitative"},"y2":{"datum":2223.6}}},
{"data":{"name":"ma"},"mark":{"type":"line","color":"#0000cc","strokeWidth":1,"strokeDash":[1,2.5]},"encoding":{"x":{"field":"d","type":"temporal"},"y":{"field":"v","type":"quantitative"}}},
{"data":{"name":"bars"},"mark":{"type":"rule","strokeWidth":1.3},"encoding":{
"x":{"field":"d","type":"temporal","scale":{"domain":[{"year":2008,"month":11,"date":27,"utc":true},{"year":2015,"month":9,"date":10,"utc":true}]},"axis":{"title":null,"grid":false,"tickCount":{"interval":"month","step":3},"labelExpr":"month(datum.value)==0 ? timeFormat(datum.value,'%y') : timeFormat(datum.value,'%b')","labelFontWeight":{"condition":{"test":"month(datum.value)==0","value":"bold"},"value":"normal"},"labelFontSize":{"condition":{"test":"month(datum.value)==0","value":12},"value":10.5},"labelFont":"Liberation Sans","labelColor":"#222222","domainColor":"#a0a0a0","tickColor":"#a0a0a0","tickSize":2,"labelPadding":1,"labelFlush":false,"labelOverlap":false}},
"y":{"field":"l","type":"quantitative","scale":{"domain":[576.4,2223.6],"nice":false,"zero":false},"axis":{"title":null,"orient":"right","grid":false,"tickCount":17,"values":[600,700,800,900,1000,1100,1200,1300,1400,1500,1600,1700,1800,1900,2000,2100,2200],"format":"d","labelExpr":"datum.value==1900 ? '' : datum.label","labelOverlap":false,"labelFont":"Liberation Sans","labelFontSize":11,"labelColor":"#222222","domainColor":"#a0a0a0","tickColor":"#a0a0a0","tickSize":3,"labelPadding":2}},
"y2":{"field":"h"},
"color":{"field":"p","type":"nominal","scale":{"domain":["-","QE","OT","now"],"range":["#000000","#0000ff","#330066","#44cc44"]},"legend":null}}},
{"data":{"name":"bars"},"mark":{"type":"tick","orient":"horizontal","size":2.6,"thickness":1.2,"opacity":1},"encoding":{"x":{"field":"d","type":"temporal"},"y":{"field":"c","type":"quantitative"},"color":{"field":"p","type":"nominal","legend":null}}},
{"data":{"name":"trend"},"transform":[{"filter":"datum.id!='L3'"}],"mark":{"type":"line","color":"#111111","strokeWidth":2.4,"strokeDash":[6,3]},"encoding":{"x":{"field":"d","type":"temporal"},"y":{"field":"v","type":"quantitative"},"detail":{"field":"id","type":"nominal"}}},
{"data":{"name":"trend"},"transform":[{"filter":"datum.id=='L3'"}],"mark":{"type":"line","color":"#ff1a1a","strokeWidth":2.4,"strokeDash":[6,3]},"encoding":{"x":{"field":"d","type":"temporal"},"y":{"field":"v","type":"quantitative"}}},
{"data":{"name":"marks"},"transform":[{"filter":"datum.k=='hi' && datum.v>=1000"}],"mark":{"type":"point","shape":"M-20,-16.5H16V-5.5H2L0,-1.5L-4,-5.5H-20Z","size":4,"filled":false,"stroke":"#b8b8b8","strokeWidth":1,"opacity":1},"encoding":{"x":{"field":"d","type":"temporal"},"y":{"field":"v","type":"quantitative"}}},
{"data":{"name":"marks"},"transform":[{"filter":"datum.k=='hi' && datum.v<1000"}],"mark":{"type":"point","shape":"M-17.5,-16.5H13.5V-5.5H2L0,-1.5L-4,-5.5H-17.5Z","size":4,"filled":false,"stroke":"#b8b8b8","strokeWidth":1,"opacity":1},"encoding":{"x":{"field":"d","type":"temporal"},"y":{"field":"v","type":"quantitative"}}},
{"data":{"name":"marks"},"transform":[{"filter":"datum.k=='lo' && datum.v>=1000"}],"mark":{"type":"point","shape":"M-20,17H16V6H2L0,2L-4,6H-20Z","size":4,"filled":false,"stroke":"#b8b8b8","strokeWidth":1,"opacity":1},"encoding":{"x":{"field":"d","type":"temporal"},"y":{"field":"v","type":"quantitative"}}},
{"data":{"name":"marks"},"transform":[{"filter":"datum.k=='lo' && datum.v<1000"}],"mark":{"type":"point","shape":"M-17.5,17H13.5V6H2L0,2L-4,6H-17.5Z","size":4,"filled":false,"stroke":"#b8b8b8","strokeWidth":1,"opacity":1},"encoding":{"x":{"field":"d","type":"temporal"},"y":{"field":"v","type":"quantitative"}}},
{"data":{"name":"marks"},"transform":[{"filter":"datum.k=='hi'"}],"mark":{"type":"text","dx":-2,"dy":-11,"baseline":"middle","align":"center","font":"Liberation Sans","fontSize":9},"encoding":{"x":{"field":"d","type":"temporal"},"y":{"field":"v","type":"quantitative"},"text":{"field":"v","type":"quantitative","format":".2f"},"color":{"field":"p","type":"nominal","legend":null}}},
{"data":{"name":"marks"},"transform":[{"filter":"datum.k=='lo'"}],"mark":{"type":"text","dx":-2,"dy":11.5,"baseline":"middle","align":"center","font":"Liberation Sans","fontSize":9},"encoding":{"x":{"field":"d","type":"temporal"},"y":{"field":"v","type":"quantitative"},"text":{"field":"v","type":"quantitative","format":".2f"},"color":{"field":"p","type":"nominal","legend":null}}},
{"data":{"name":"notes"},"transform":[{"filter":"datum.id==1"}],"mark":{"type":"point","shape":"M-161,-126H13V-74H-161Z","size":4,"filled":true,"fill":"#b4b4b4","strokeWidth":0,"opacity":1},"encoding":{"x":{"field":"d","type":"temporal"},"y":{"field":"v","type":"quantitative"}}},
{"data":{"name":"notes"},"transform":[{"filter":"datum.id==1"}],"mark":{"type":"point","shape":"M-164,-129H10V-77L0,0L5,-77H-164Z","size":4,"filled":true,"fill":"#ffffff","stroke":"#888888","strokeWidth":1,"opacity":1},"encoding":{"x":{"field":"d","type":"temporal"},"y":{"field":"v","type":"quantitative"}}},
{"data":{"name":"notes"},"transform":[{"filter":"datum.id==1"}],"mark":{"type":"text","align":"left","baseline":"alphabetic","dx":-161,"dy":-116,"lineBreak":"\n","lineHeight":16,"font":"Liberation Sans","fontSize":11.7,"fontWeight":"bold","color":"#000000"},"encoding":{"x":{"field":"d","type":"temporal"},"y":{"field":"v","type":"quantitative"},"text":{"field":"t"}}},
{"data":{"name":"notes"},"transform":[{"filter":"datum.id==2"}],"mark":{"type":"point","shape":"M13,44H169V83H13Z","size":4,"filled":true,"fill":"#b4b4b4","strokeWidth":0,"opacity":1},"encoding":{"x":{"field":"d","type":"temporal"},"y":{"field":"v","type":"quantitative"}}},
{"data":{"name":"notes"},"transform":[{"filter":"datum.id==2"}],"mark":{"type":"point","shape":"M10,41H13L0,0L20,41H166V80H10Z","size":4,"filled":true,"fill":"#ffffff","stroke":"#888888","strokeWidth":1,"opacity":1},"encoding":{"x":{"field":"d","type":"temporal"},"y":{"field":"v","type":"quantitative"}}},
{"data":{"name":"notes"},"transform":[{"filter":"datum.id==2"}],"mark":{"type":"text","align":"left","baseline":"alphabetic","dx":12,"dy":56.5,"lineBreak":"\n","lineHeight":16,"font":"Liberation Sans","fontSize":11.7,"fontWeight":"bold","color":"#000000"},"encoding":{"x":{"field":"d","type":"temporal"},"y":{"field":"v","type":"quantitative"},"text":{"field":"t"}}},
{"data":{"name":"notes"},"transform":[{"filter":"datum.id==3"}],"mark":{"type":"point","shape":"M-62,93H114V147H-62Z","size":4,"filled":true,"fill":"#b4b4b4","strokeWidth":0,"opacity":1},"encoding":{"x":{"field":"d","type":"temporal"},"y":{"field":"v","type":"quantitative"}}},
{"data":{"name":"notes"},"transform":[{"filter":"datum.id==3"}],"mark":{"type":"point","shape":"M-65,90H19L0,0L24,90H111V144H-65Z","size":4,"filled":true,"fill":"#ffffff","stroke":"#888888","strokeWidth":1,"opacity":1},"encoding":{"x":{"field":"d","type":"temporal"},"y":{"field":"v","type":"quantitative"}}},
{"data":{"name":"notes"},"transform":[{"filter":"datum.id==3"}],"mark":{"type":"text","align":"left","baseline":"alphabetic","dx":-63,"dy":105,"lineBreak":"\n","lineHeight":16,"font":"Liberation Sans","fontSize":11.7,"fontWeight":"bold","color":"#000000"},"encoding":{"x":{"field":"d","type":"temporal"},"y":{"field":"v","type":"quantitative"},"text":{"field":"t"}}},
{"data":{"name":"notes"},"transform":[{"filter":"datum.id==4"}],"mark":{"type":"point","shape":"M-73,23H9V61H-73Z","size":4,"filled":true,"fill":"#b4b4b4","strokeWidth":0,"opacity":1},"encoding":{"x":{"field":"d","type":"temporal"},"y":{"field":"v","type":"quantitative"}}},
{"data":{"name":"notes"},"transform":[{"filter":"datum.id==4"}],"mark":{"type":"point","shape":"M-76,20H-3L0,0L5,20H6V58H-76Z","size":4,"filled":true,"fill":"#ffffff","stroke":"#888888","strokeWidth":1,"opacity":1},"encoding":{"x":{"field":"d","type":"temporal"},"y":{"field":"v","type":"quantitative"}}},
{"data":{"name":"notes"},"transform":[{"filter":"datum.id==4"}],"mark":{"type":"text","align":"left","baseline":"alphabetic","dx":-74,"dy":36.5,"lineBreak":"\n","lineHeight":15,"font":"Liberation Sans","fontSize":11.7,"fontWeight":"bold","color":"#000000"},"encoding":{"x":{"field":"d","type":"temporal"},"y":{"field":"v","type":"quantitative"},"text":{"field":"t"}}},
{"data":{"values":[{"v":2057.33}]},"mark":{"type":"point","shape":"M-2,0L3,-5.5H36V5.5H3Z","size":4,"filled":true,"fill":"#ffffff","stroke":"#2020c0","strokeWidth":1,"opacity":1},"encoding":{"x":{"datum":{"year":2015,"month":9,"date":10,"utc":true},"type":"temporal"},"y":{"field":"v","type":"quantitative"}}},
{"data":{"values":[{"v":2057.33}]},"mark":{"type":"text","align":"left","baseline":"middle","dx":3.5,"font":"Liberation Sans","fontSize":9,"color":"#0000cc"},"encoding":{"x":{"datum":{"year":2015,"month":9,"date":10,"utc":true},"type":"temporal"},"y":{"field":"v","type":"quantitative"},"text":{"field":"v","type":"quantitative","format":".2f"}}},
{"data":{"values":[{"v":1930.63}]},"mark":{"type":"point","shape":"M-3,0L3,-6H43V6H3Z","size":4,"filled":true,"fill":"#ffffff","stroke":"#000000","strokeWidth":1.2,"opacity":1},"encoding":{"x":{"datum":{"year":2015,"month":9,"date":10,"utc":true},"type":"temporal"},"y":{"field":"v","type":"quantitative"}}},
{"data":{"values":[{"v":1930.63}]},"mark":{"type":"text","align":"left","baseline":"middle","dx":3,"font":"Liberation Sans","fontSize":10.5,"fontWeight":"bold","color":"#000000"},"encoding":{"x":{"datum":{"year":2015,"month":9,"date":10,"utc":true},"type":"temporal"},"y":{"field":"v","type":"quantitative"},"text":{"field":"v","type":"quantitative","format":".2f"}}},
{"data":{"name":"phases"},"mark":{"type":"text","align":"center","baseline":"alphabetic","font":"Liberation Sans","fontSize":14.5,"fontWeight":"bold","color":"#000000"},"encoding":{"x":{"field":"d","type":"temporal"},"y":{"datum":585.8,"type":"quantitative"},"text":{"field":"n"}}},
{"data":{"values":[{}]},"mark":{"type":"text","text":"$SPX","align":"left","baseline":"alphabetic","fontSize":13,"fontWeight":"bold","color":"#000000"},"encoding":{"x":{"datum":{"year":2008,"month":11,"date":24,"utc":true},"type":"temporal"},"y":{"datum":2293.5,"type":"quantitative"}}},
{"data":{"values":[{}]},"mark":{"type":"text","text":"S&P 500 Large Cap Index","align":"left","baseline":"alphabetic","fontSize":10.5,"color":"#000000"},"encoding":{"x":{"datum":{"year":2009,"month":3,"date":16,"utc":true},"type":"temporal"},"y":{"datum":2293.5,"type":"quantitative"}}},
{"data":{"values":[{}]},"mark":{"type":"text","text":"INDX","align":"left","baseline":"alphabetic","fontSize":9,"color":"#000000"},"encoding":{"x":{"datum":{"year":2010,"month":3,"date":29,"utc":true},"type":"temporal"},"y":{"datum":2293.5,"type":"quantitative"}}},
{"data":{"values":[{}]},"mark":{"type":"text","text":"1-Sep-2015 10:11am","align":"left","baseline":"alphabetic","fontSize":10.5,"color":"#000000"},"encoding":{"x":{"datum":{"year":2008,"month":11,"date":24,"utc":true},"type":"temporal"},"y":{"datum":2239.5,"type":"quantitative"}}},
{"data":{"values":[{}]},"mark":{"type":"text","text":"Open","align":"left","baseline":"alphabetic","fontSize":11.5,"fontWeight":"bold","color":"#000000"},"encoding":{"x":{"datum":{"year":2011,"month":11,"date":4,"utc":true},"type":"temporal"},"y":{"datum":2239.5,"type":"quantitative"}}},
{"data":{"values":[{}]},"mark":{"type":"text","text":"1986.73","align":"left","baseline":"alphabetic","fontSize":10.5,"color":"#000000"},"encoding":{"x":{"datum":{"year":2012,"month":2,"date":9,"hours":14,"utc":true},"type":"temporal"},"y":{"datum":2239.5,"type":"quantitative"}}},
{"data":{"values":[{}]},"mark":{"type":"text","text":"High","align":"left","baseline":"alphabetic","fontSize":11.5,"fontWeight":"bold","color":"#000000"},"encoding":{"x":{"datum":{"year":2012,"month":6,"date":24,"hours":10,"utc":true},"type":"temporal"},"y":{"datum":2239.5,"type":"quantitative"}}},
{"data":{"values":[{}]},"mark":{"type":"text","text":"1986.73","align":"left","baseline":"alphabetic","fontSize":10.5,"color":"#000000"},"encoding":{"x":{"datum":{"year":2012,"month":9,"date":15,"utc":true},"type":"temporal"},"y":{"datum":2239.5,"type":"quantitative"}}},
{"data":{"values":[{}]},"mark":{"type":"text","text":"Low","align":"left","baseline":"alphabetic","fontSize":11.5,"fontWeight":"bold","color":"#000000"},"encoding":{"x":{"datum":{"year":2013,"month":1,"date":23,"utc":true},"type":"temporal"},"y":{"datum":2239.5,"type":"quantitative"}}},
{"data":{"values":[{}]},"mark":{"type":"text","text":"1925.74","align":"left","baseline":"alphabetic","fontSize":10.5,"color":"#000000"},"encoding":{"x":{"datum":{"year":2013,"month":4,"date":12,"hours":19,"utc":true},"type":"temporal"},"y":{"datum":2239.5,"type":"quantitative"}}},
{"data":{"values":[{}]},"mark":{"type":"text","text":"Last","align":"left","baseline":"alphabetic","fontSize":11.5,"fontWeight":"bold","color":"#000000"},"encoding":{"x":{"datum":{"year":2013,"month":8,"date":23,"hours":19,"utc":true},"type":"temporal"},"y":{"datum":2239.5,"type":"quantitative"}}},
{"data":{"values":[{}]},"mark":{"type":"text","text":"1930.63","align":"left","baseline":"alphabetic","fontSize":10.5,"color":"#000000"},"encoding":{"x":{"datum":{"year":2013,"month":11,"date":11,"hours":12,"utc":true},"type":"temporal"},"y":{"datum":2239.5,"type":"quantitative"}}},
{"data":{"values":[{}]},"mark":{"type":"text","text":"Volume","align":"left","baseline":"alphabetic","fontSize":11.5,"fontWeight":"bold","color":"#000000"},"encoding":{"x":{"datum":{"year":2014,"month":3,"date":24,"hours":10,"utc":true},"type":"temporal"},"y":{"datum":2239.5,"type":"quantitative"}}},
{"data":{"values":[{}]},"mark":{"type":"text","text":"2.4B","align":"left","baseline":"alphabetic","fontSize":10.5,"color":"#000000"},"encoding":{"x":{"datum":{"year":2014,"month":8,"date":1,"hours":10,"utc":true},"type":"temporal"},"y":{"datum":2239.5,"type":"quantitative"}}},
{"data":{"values":[{}]},"mark":{"type":"text","text":"Chg","align":"left","baseline":"alphabetic","fontSize":11.5,"fontWeight":"bold","color":"#000000"},"encoding":{"x":{"datum":{"year":2014,"month":10,"date":17,"utc":true},"type":"temporal"},"y":{"datum":2239.5,"type":"quantitative"}}},
{"data":{"values":[{}]},"mark":{"type":"text","text":"-58.24 (-2.93%)","align":"left","baseline":"alphabetic","fontSize":10.5,"color":"#000000"},"encoding":{"x":{"datum":{"year":2014,"month":12,"date":30,"utc":true},"type":"temporal"},"y":{"datum":2239.5,"type":"quantitative"}}},
{"data":{"values":[{}]},"mark":{"type":"text","text":"▼","align":"left","baseline":"alphabetic","font":"DejaVu Sans","fontSize":8,"color":"#99103c"},"encoding":{"x":{"datum":{"year":2015,"month":8,"date":17,"hours":10,"utc":true},"type":"temporal"},"y":{"datum":2241,"type":"quantitative"}}},
{"data":{"values":[{}]},"mark":{"type":"text","text":"© StockCharts.com","align":"right","baseline":"alphabetic","font":"DejaVu Sans","fontSize":10,"color":"#555555"},"encoding":{"x":{"datum":{"year":2015,"month":9,"date":10,"utc":true},"type":"temporal"},"y":{"datum":2299.1,"type":"quantitative"}}},
{"data":{"values":[{}]},"mark":{"type":"text","text":"$SPX (Weekly) 1930.63","align":"left","baseline":"alphabetic","font":"DejaVu Sans Mono","fontSize":10,"color":"#000000"},"encoding":{"x":{"datum":{"year":2009,"month":1,"date":28,"utc":true},"type":"temporal"},"y":{"datum":2179.7,"type":"quantitative"}}},
{"data":{"values":[{}]},"mark":{"type":"rule","color":"#0000cc","strokeWidth":1.5,"strokeDash":[1.5,1.5]},"encoding":{"x":{"datum":{"year":2008,"month":12,"date":6,"utc":true},"type":"temporal"},"x2":{"datum":{"year":2008,"month":12,"date":29,"utc":true}},"y":{"datum":2143.4,"type":"quantitative"}}},
{"data":{"values":[{}]},"mark":{"type":"text","text":"MA(50) 2057.33","align":"left","baseline":"alphabetic","fontSize":9.5,"color":"#0000cc"},"encoding":{"x":{"datum":{"year":2009,"month":1,"date":4,"hours":10,"utc":true},"type":"temporal"},"y":{"datum":2126.8,"type":"quantitative"}}}
]
}
